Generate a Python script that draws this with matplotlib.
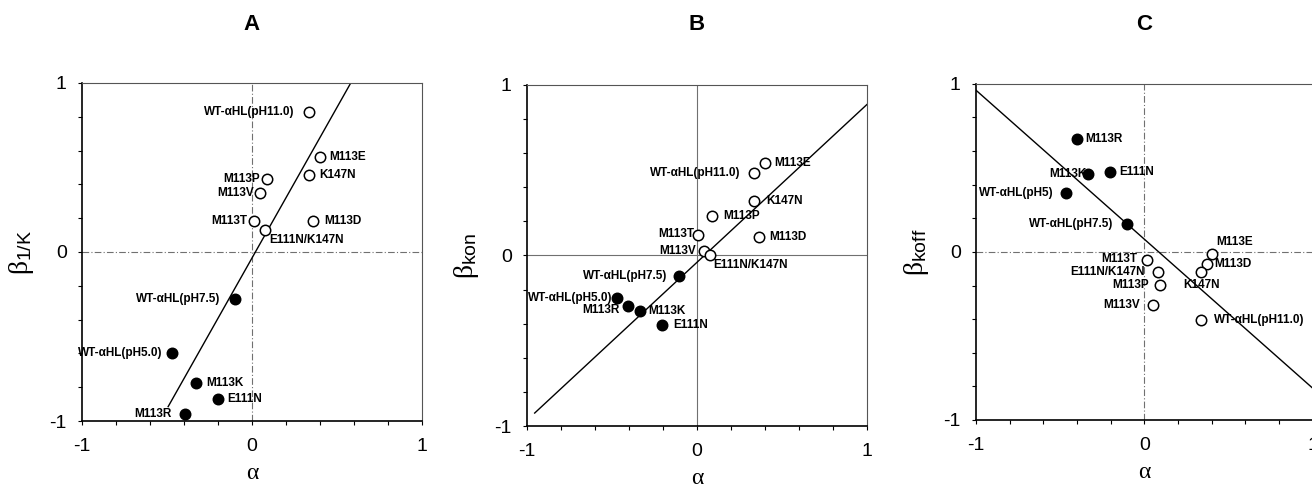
import matplotlib.pyplot as plt
import numpy as np

plt.rcParams['font.family'] = ['Liberation Sans', 'DejaVu Sans']
plt.rcParams['mathtext.fontset'] = 'custom'
plt.rcParams['mathtext.rm'] = 'Liberation Serif'
plt.rcParams['mathtext.it'] = 'Liberation Serif'
plt.rcParams['mathtext.sf'] = 'Liberation Sans'

# Panel A: beta_1/K vs alpha
a_names = ['WT-αHL(pH11.0)', 'M113E', 'K147N', 'M113P', 'M113V', 'M113T',
           'E111N/K147N', 'M113D', 'WT-αHL(pH7.5)', 'WT-αHL(pH5.0)',
           'M113K', 'E111N', 'M113R']
a_x = [0.338, 0.40, 0.338, 0.090, 0.047, 0.012, 0.077, 0.361,
       -0.102, -0.468, -0.330, -0.202, -0.395]
a_y = [0.828, 0.563, 0.453, 0.433, 0.350, 0.182, 0.128, 0.186,
       -0.279, -0.599, -0.777, -0.872, -0.958]
a_filled = [False] * 8 + [True] * 5
a_fit_x = [-0.493, 0.582]
a_fit_y = [-0.915, 1.0]

# Panel B: beta_kon vs alpha
b_names = ['M113E', 'WT-αHL(pH11.0)', 'K147N', 'M113P', 'M113T', 'M113D',
           'M113V', 'E111N/K147N', 'WT-αHL(pH7.5)', 'WT-αHL(pH5.0)',
           'M113R', 'M113K', 'E111N']
b_x = [0.402, 0.335, 0.335, 0.090, 0.008, 0.365, 0.041, 0.075,
       -0.108, -0.469, -0.404, -0.337, -0.206]
b_y = [0.542, 0.485, 0.319, 0.229, 0.123, 0.108, 0.025, 0.004,
       -0.123, -0.249, -0.297, -0.327, -0.405]
b_filled = [False] * 8 + [True] * 5
b_fit_x = [-0.955, 1.0]
b_fit_y = [-0.924, 0.885]

# Panel C: beta_koff vs alpha
c_names = ['M113R', 'M113K', 'E111N', 'WT-αHL(pH5)', 'WT-αHL(pH7.5)',
           'M113E', 'M113D', 'K147N', 'M113T', 'E111N/K147N', 'M113P',
           'M113V', 'WT-αHL(pH11.0)']
c_x = [-0.398, -0.333, -0.203, -0.464, -0.104, 0.402, 0.371, 0.339,
       0.016, 0.080, 0.096, 0.054, 0.339]
c_y = [0.673, 0.464, 0.474, 0.351, 0.165, -0.012, -0.069, -0.121,
       -0.050, -0.117, -0.194, -0.317, -0.407]
c_filled = [True] * 5 + [False] * 8
c_fit_x = [-1.0, 1.0]
c_fit_y = [0.962, -0.810]

# label offsets in pixels (dx, dy, ha)
a_offs = [(-15, 0, 'right'), (9, 0, 'left'), (10, 0, 'left'), (-7, 0, 'right'),
          (-6, 0, 'right'), (-7, 0, 'right'), (4, -10, 'left'), (11, 0, 'left'),
          (-14, 0, 'right'), (-10, 0, 'right'), (10, 0, 'left'), (10, 0, 'left'),
          (-13, 0, 'right')]
b_offs = [(9, 0, 'left'), (-13, 0, 'right'), (12, 0, 'left'), (11, 0, 'left'),
          (-4, 1, 'right'), (10, 0, 'left'), (-8, 0, 'right'), (4, -10, 'left'),
          (-11, 0, 'right'), (-5, 0, 'right'), (-9, -4, 'right'), (9, 0, 'left'),
          (11, 0, 'left')]
c_offs = [(8, 0, 'left'), (-2, 0, 'right'), (9, 0, 'left'), (-13, 0, 'right'),
          (-13, 0, 'right'), (4, 12, 'left'), (8, 0, 'left'), (0, -13, 'center'),
          (-10, 1, 'right'), (-13, 0, 'right'), (-12, 0, 'right'), (-13, 0, 'right'),
          (13, 0, 'left')]


def draw_panel(ax, names, xs, ys, filled, offs, fit_x, fit_y, ylab, zero_ls):
    ax.set_xlim(-1, 1)
    ax.set_ylim(-1, 1)
    ax.axhline(0, color='#707070', lw=0.8, ls=zero_ls, zorder=1)
    ax.axvline(0, color='#707070', lw=0.8, ls=zero_ls, zorder=1)
    ax.plot(fit_x, fit_y, color='black', lw=1.0, zorder=2)
    for name, x, y, f, (dx, dy, ha) in zip(names, xs, ys, filled, offs):
        ax.plot(x, y, 'o', ms=7.5, mec='black', mew=1.1,
                mfc='black' if f else 'white', zorder=3)
        ax.annotate(name, (x, y), xytext=(dx, dy), textcoords='offset pixels',
                    ha=ha, va='center', fontsize=8.5, fontweight='bold')
    ax.set_xticks([-1, 0, 1])
    ax.set_yticks([-1, 0, 1])
    ax.set_xticklabels(['-1', '0', '1'])
    ax.set_yticklabels(['-1', '0', '1'])
    ax.set_xticks(np.arange(-1, 1.01, 0.2), minor=True)
    ax.set_yticks(np.arange(-1, 1.01, 0.2), minor=True)
    ax.tick_params(which='both', direction='out', length=3, width=0.8,
                   labelsize=14, pad=8)
    ax.tick_params(axis='x', which='both', pad=9)
    for s in ['top', 'right']:
        ax.spines[s].set_color('#555555')
    for s in ['left', 'bottom']:
        ax.spines[s].set_linewidth(1.2)
    ax.set_xlabel('α', fontsize=17, family='Liberation Serif', labelpad=6)
    ax.set_ylabel(ylab, fontsize=20)
    ax.yaxis.set_label_coords(-0.135, 0.5)


fig = plt.figure(figsize=(13.12, 4.9), dpi=100)
ax_a = fig.add_axes([0.0625, 0.1408, 0.259, 0.690])
ax_b = fig.add_axes([0.4017, 0.1306, 0.259, 0.696])
ax_c = fig.add_axes([0.7439, 0.1429, 0.2565, 0.686])

draw_panel(ax_a, a_names, a_x, a_y, a_filled, a_offs, a_fit_x, a_fit_y,
           r'$\beta_{\mathsf{1/K}}$', (0, (6, 2, 1, 2)))
draw_panel(ax_b, b_names, b_x, b_y, b_filled, b_offs, b_fit_x, b_fit_y,
           r'$\beta_{\mathsf{kon}}$', '-')
draw_panel(ax_c, c_names, c_x, c_y, c_filled, c_offs, c_fit_x, c_fit_y,
           r'$\beta_{\mathsf{koff}}$', (0, (6, 2, 1, 2)))

# panel letters
for ax, letter in zip([ax_a, ax_b, ax_c], ['A', 'B', 'C']):
    pos = ax.get_position()
    fig.text((pos.x0 + pos.x1) / 2, 0.949, letter, ha='center', va='center',
             fontsize=16, fontweight='bold')

fig.savefig('out.png', dpi=100)
